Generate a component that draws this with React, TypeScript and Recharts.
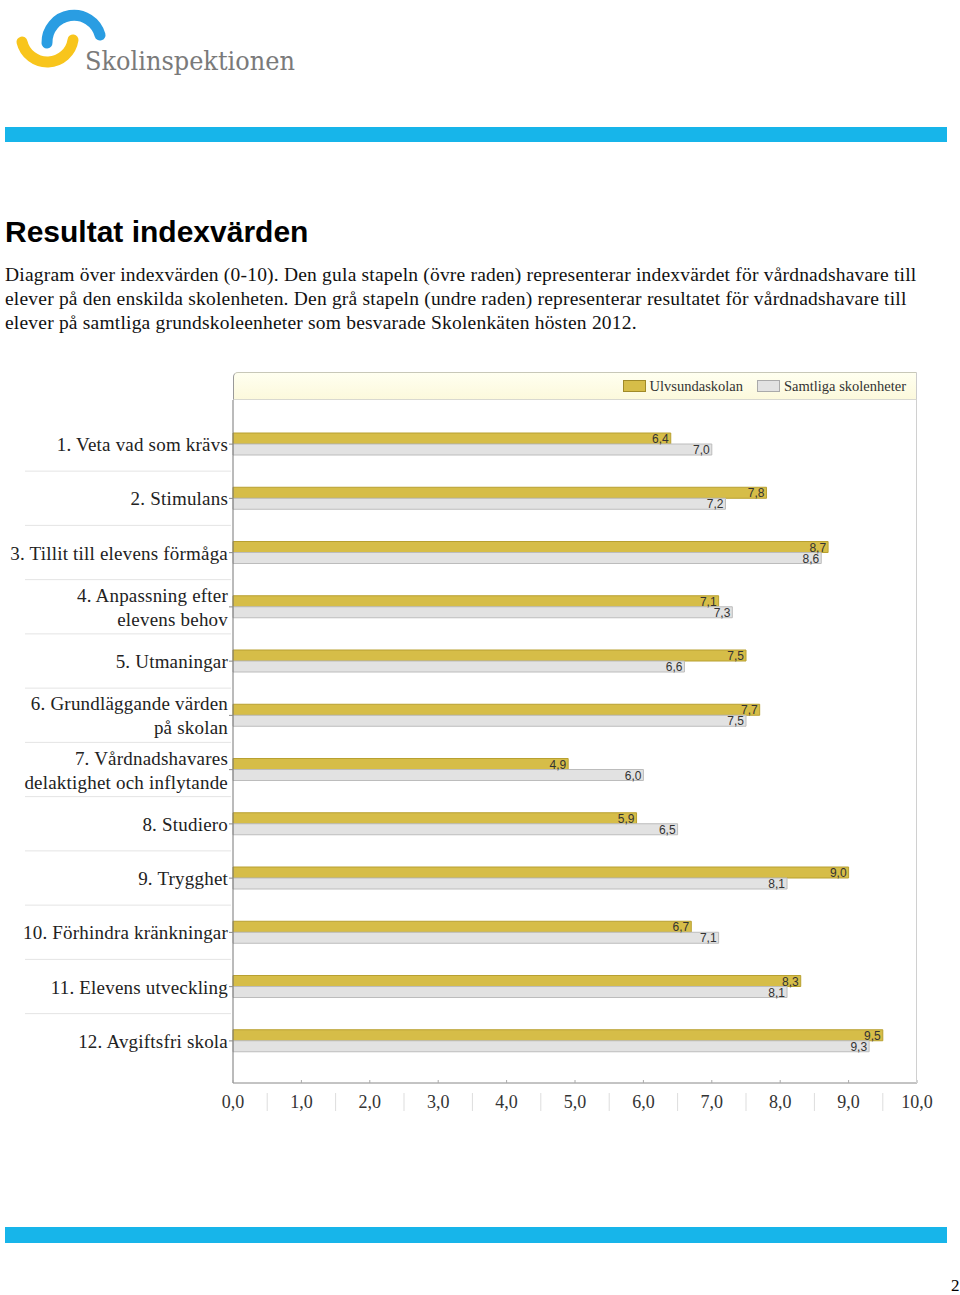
import React from "react";
import {
  BarChart,
  Bar,
  XAxis,
  YAxis,
  Legend,
  LabelList
} from "recharts";

// categories (left axis labels), "\n" marks a line break
const categories = [
  "1. Veta vad som krävs",
  "2. Stimulans",
  "3. Tillit till elevens förmåga",
  "4. Anpassning efter\nelevens behov",
  "5. Utmaningar",
  "6. Grundläggande värden\npå skolan",
  "7. Vårdnadshavares\ndelaktighet och inflytande",
  "8. Studiero",
  "9. Trygghet",
  "10. Förhindra kränkningar",
  "11. Elevens utveckling",
  "12. Avgiftsfri skola"
];

const schoolValues = [6.4, 7.8, 8.7, 7.1, 7.5, 7.7, 4.9, 5.9, 9.0, 6.7, 8.3, 9.5];
const allValues = [7.0, 7.2, 8.6, 7.3, 6.6, 7.5, 6.0, 6.5, 8.1, 7.1, 8.1, 9.3];

const xTicks = [0, 1, 2, 3, 4, 5, 6, 7, 8, 9, 10];

const seriesNames = ["Ulvsundaskolan", "Samtliga skolenheter"];

const chartData = categories.map((name, i) => ({
  name,
  school: schoolValues[i],
  all: allValues[i]
}));

const SERIF = "'Liberation Serif', 'Times New Roman', serif";
const SANS = "'Liberation Sans', Arial, sans-serif";

const fmt = (v: number) => v.toFixed(1).replace(".", ",");

const CategoryTick = (props: any) => {
  const { x, y, payload, index } = props;
  const lines = String(payload.value).split("\n");
  const lh = 24;
  const startY = y - ((lines.length - 1) * lh) / 2;
  return (
    <g>
      {index < categories.length - 1 && (
        <line x1={25} x2={231} y1={y + 27} y2={y + 27} stroke="#e4e4e4" />
      )}
      <text
        x={x}
        y={startY}
        textAnchor="end"
        dominantBaseline="central"
        fontFamily={SERIF}
        fontSize={19}
        letterSpacing={0.2}
        fill="#222"
      >
        {lines.map((l, i) => (
          <tspan key={i} x={x} dy={i === 0 ? 0 : lh}>
            {l}
          </tspan>
        ))}
      </text>
    </g>
  );
};

const ValueTick = (props: any) => {
  const { x, y, payload, index } = props;
  return (
    <g>
      <line x1={x} x2={x} y1={y - 3} y2={y} stroke="#aaa" />
      <text
        x={x}
        y={y + 19}
        textAnchor="middle"
        dominantBaseline="central"
        fontFamily={SERIF}
        fontSize={18}
        fill="#333"
      >
        {fmt(payload.value)}
      </text>
      {index < xTicks.length - 1 && (
        <line x1={x + 34.2} x2={x + 34.2} y1={y + 10} y2={y + 28} stroke="#ddd" />
      )}
    </g>
  );
};

const BarValue = (props: any) => {
  const { x, y, width, height, value } = props;
  return (
    <text
      x={x + width - 2}
      y={y + height - 1}
      textAnchor="end"
      fontFamily={SANS}
      fontSize={12}
      fill="#333"
    >
      {fmt(value)}
    </text>
  );
};

const LegendBand = (props: any) => {
  const items = [...(props.payload || [])].sort(
    (a: any, b: any) => seriesNames.indexOf(a.value) - seriesNames.indexOf(b.value)
  );
  return (
    <div
      style={{
        width: 684,
        height: 28,
        boxSizing: "border-box",
        background: "linear-gradient(#fffff0, #fcf9dc)",
        borderTop: "1px solid #c8c8b8",
        borderLeft: "1px solid #999",
        borderRight: "1px solid #ccc",
        borderBottom: "1px solid #d8d8d0",
        borderTopLeftRadius: 5,
        display: "flex",
        justifyContent: "flex-end",
        alignItems: "center",
        paddingRight: 10,
        fontFamily: SERIF,
        fontSize: 14.5,
        color: "#333"
      }}
    >
      {items.map((p: any, i: number) => (
        <div key={i} style={{ display: "flex", alignItems: "center", marginLeft: 14 }}>
          <span
            style={{
              display: "inline-block",
              width: 21,
              height: 10,
              background: p.color,
              border: i === 0 ? "1px solid #a08a28" : "1px solid #aaa",
              marginRight: 4
            }}
          />
          <span>{p.value}</span>
        </div>
      ))}
    </div>
  );
};

const Logo = () => (
  <svg width={320} height={100} style={{ position: "absolute", left: 0, top: 0 }}>
    <path
      d="M 47 43 A 27 27 0 0 1 100 35"
      fill="none"
      stroke="#2a9de2"
      strokeWidth={11}
      strokeLinecap="round"
    />
    <path
      d="M 22 42 A 26 26 0 0 0 73 40"
      fill="none"
      stroke="#f8c51c"
      strokeWidth={11}
      strokeLinecap="round"
    />
    <text
      x={85}
      y={70}
      fontFamily="'DejaVu Serif', serif"
      fontSize={26}
      fill="#7a7a7a"
      textLength={210}
      lengthAdjust="spacingAndGlyphs"
    >
      Skolinspektionen
    </text>
  </svg>
);

const App: React.FC = () => {
  return (
    <div
      style={{
        position: "absolute",
        left: 0,
        top: 0,
        width: 960,
        height: 1295,
        background: "#fff",
        overflow: "hidden"
      }}
    >
      <Logo />
      <div style={{ position: "absolute", left: 5, top: 127, width: 942, height: 15, background: "#17b5ea" }} />

      <div
        style={{
          position: "absolute",
          left: 5,
          top: 212,
          fontFamily: SANS,
          fontWeight: "bold",
          fontSize: 30,
          lineHeight: "40px",
          color: "#000"
        }}
      >
        Resultat indexvärden
      </div>

      <div
        style={{
          position: "absolute",
          left: 5,
          top: 263,
          fontFamily: SERIF,
          fontSize: 19.5,
          letterSpacing: 0.2,
          lineHeight: "24px",
          color: "#111",
          whiteSpace: "nowrap"
        }}
      >
        <div>Diagram över indexvärden (0-10). Den gula stapeln (övre raden) representerar indexvärdet för vårdnadshavare till</div>
        <div>elever på den enskilda skolenheten. Den grå stapeln (undre raden) representerar resultatet för vårdnadshavare till</div>
        <div>elever på samtliga grundskoleenheter som besvarade Skolenkäten hösten 2012.</div>
      </div>

      <div style={{ position: "absolute", left: 0, top: 360 }}>
        <BarChart
          width={960}
          height={780}
          data={chartData}
          layout="vertical"
          margin={{ top: 40, right: 43, left: 0, bottom: 0 }}
          barSize={11}
          barGap={0}
        >
          <XAxis
            type="number"
            domain={[0, 10]}
            ticks={xTicks}
            interval={0}
            height={57}
            tickSize={0}
            tickMargin={0}
            tickLine={false}
            axisLine={{ stroke: "#888" }}
            tick={<ValueTick />}
          />
          <YAxis
            type="category"
            dataKey="name"
            width={233}
            interval={0}
            tickSize={4}
            tickMargin={1}
            tickLine={{ stroke: "#888" }}
            axisLine={{ stroke: "#777" }}
            padding={{ top: 17, bottom: 15 }}
            tick={<CategoryTick />}
          />
          <Legend
            layout="horizontal"
            verticalAlign="middle"
            align="center"
            wrapperStyle={{ top: 12, left: 233, width: 684 }}
            content={<LegendBand />}
          />
          <Bar
            dataKey="school"
            name={seriesNames[0]}
            fill="#d6bd48"
            stroke="#b8a030"
            isAnimationActive={false}
          >
            <LabelList dataKey="school" content={<BarValue />} />
          </Bar>
          <Bar
            dataKey="all"
            name={seriesNames[1]}
            fill="#e2e2e2"
            stroke="#bcbcbc"
            isAnimationActive={false}
          >
            <LabelList dataKey="all" content={<BarValue />} />
          </Bar>
        </BarChart>
        <div
          style={{
            position: "absolute",
            left: 916,
            top: 40,
            width: 1,
            height: 683,
            background: "#d0d0d0"
          }}
        />
      </div>

      <div style={{ position: "absolute", left: 5, top: 1227, width: 942, height: 16, background: "#17b5ea" }} />
      <div
        style={{
          position: "absolute",
          left: 951,
          top: 1276,
          fontFamily: SERIF,
          fontSize: 17,
          color: "#000"
        }}
      >
        2
      </div>
    </div>
  );
};

export default App;
